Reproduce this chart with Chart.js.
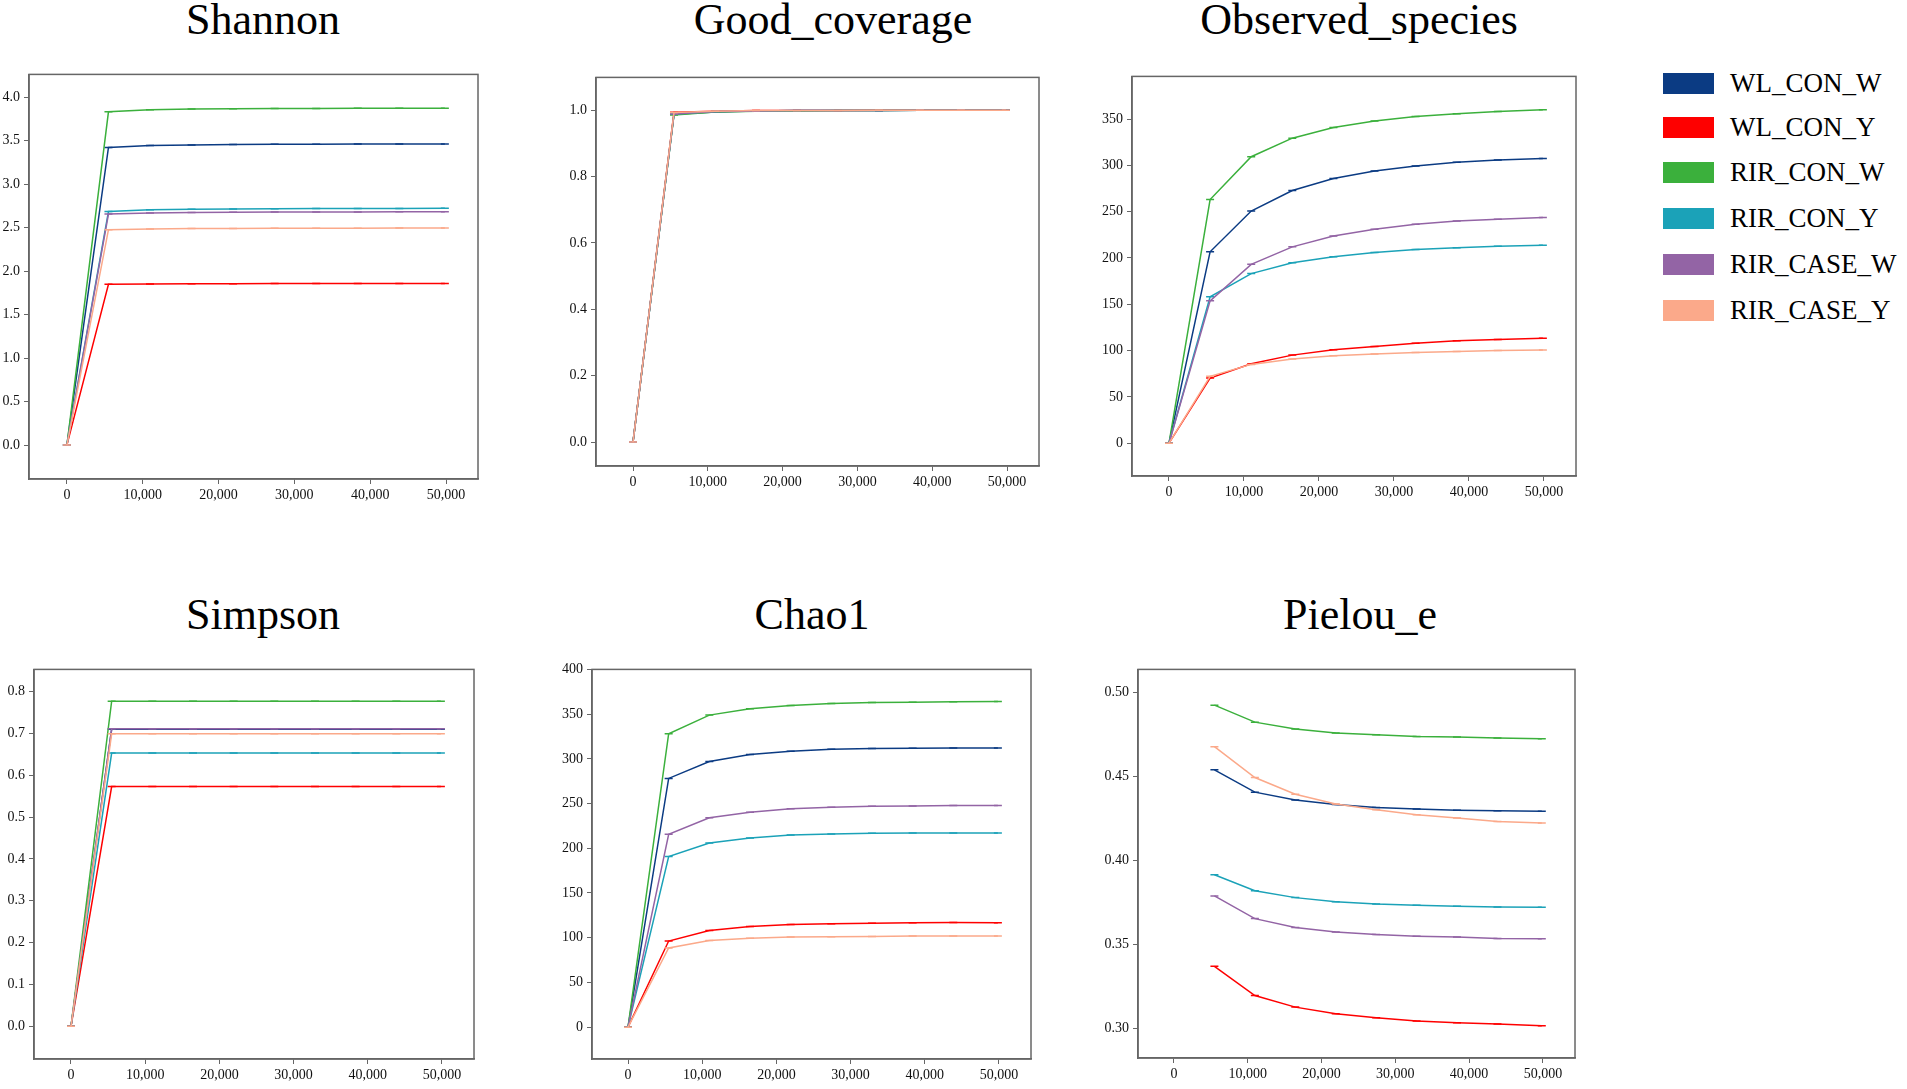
<!DOCTYPE html>
<html>
<head>
<meta charset="utf-8">
<script src="https://cdn.jsdelivr.net/npm/chart.js@4.4.1/dist/chart.umd.min.js"></script>
<style>
body{margin:0;background:#fff;width:1907px;height:1089px;position:relative;overflow:hidden;font-family:"Liberation Serif","Times New Roman",serif}
.ttl{position:absolute;width:500px;text-align:center;font-size:44px;line-height:44px;color:#000;white-space:nowrap}
.pane{position:absolute}
.key{position:absolute;width:51px;height:21px}
.lab{position:absolute;font-size:27px;line-height:27px;color:#000;white-space:nowrap}
</style>
</head>
<body>
<div id="page"></div>
<script>
// groups and colours
const groups = ['WL_CON_W', 'WL_CON_Y', 'RIR_CON_W', 'RIR_CON_Y', 'RIR_CASE_W', 'RIR_CASE_Y'];
const colors = ['#0b3b83', '#fe0000', '#3bb03c', '#1ba2b8', '#9364a5', '#fba98a'];
// sequencing depth (x) and its tick labels
const depth = [0, 5480, 10960, 16440, 21920, 27400, 32880, 38360, 43840, 49850];
const xTickValues = [0, 10000, 20000, 30000, 40000, 50000];

// Shannon
const shannon_WL_CON_W   = [0, 3.42, 3.443, 3.45, 3.454, 3.456, 3.458, 3.459, 3.46, 3.461];
const shannon_WL_CON_Y   = [0, 1.848, 1.852, 1.854, 1.855, 1.856, 1.857, 1.857, 1.858, 1.858];
const shannon_RIR_CON_W  = [0, 3.83, 3.855, 3.862, 3.865, 3.867, 3.869, 3.87, 3.871, 3.872];
const shannon_RIR_CON_Y  = [0, 2.685, 2.704, 2.71, 2.714, 2.716, 2.718, 2.719, 2.72, 2.721];
const shannon_RIR_CASE_W = [0, 2.655, 2.668, 2.673, 2.676, 2.678, 2.679, 2.68, 2.681, 2.682];
const shannon_RIR_CASE_Y = [0, 2.476, 2.484, 2.488, 2.49, 2.491, 2.492, 2.493, 2.494, 2.494];

// Good_coverage
const good_WL_CON_W   = [0, 0.988, 0.995, 0.998, 0.999, 0.999, 0.9995, 0.9997, 0.9998, 0.9999];
const good_WL_CON_Y   = [0, 0.994, 0.997, 0.999, 0.999, 0.9995, 0.9997, 0.9998, 0.9999, 0.9999];
const good_RIR_CON_W  = [0, 0.986, 0.995, 0.997, 0.998, 0.999, 0.9995, 0.9997, 0.9998, 0.9999];
const good_RIR_CON_Y  = [0, 0.989, 0.996, 0.998, 0.999, 0.999, 0.9995, 0.9997, 0.9998, 0.9999];
const good_RIR_CASE_W = [0, 0.989, 0.996, 0.998, 0.999, 0.999, 0.9995, 0.9997, 0.9998, 0.9999];
const good_RIR_CASE_Y = [0, 0.993, 0.997, 0.999, 0.999, 0.9995, 0.9997, 0.9998, 0.9999, 0.9999];

// Observed_species
const obs_WL_CON_W   = [0, 206.6, 250.6, 272.8, 285.7, 293.9, 299.2, 303.2, 305.7, 307.5];
const obs_WL_CON_Y   = [0, 70.4, 85.8, 95.1, 100.8, 104.4, 108.0, 110.5, 111.9, 113.3];
const obs_RIR_CON_W  = [0, 263.1, 309.3, 329.3, 340.8, 347.9, 352.6, 355.8, 358.2, 360.0];
const obs_RIR_CON_Y  = [0, 158.0, 183.1, 194.9, 201.3, 205.9, 209.2, 210.9, 212.7, 213.8];
const obs_RIR_CASE_W = [0, 153.7, 193.1, 212.0, 223.8, 231.0, 236.3, 239.9, 241.7, 243.8];
const obs_RIR_CASE_Y = [0, 72.2, 85.1, 90.8, 94.4, 96.2, 98.0, 99.0, 100.1, 100.5];

// Simpson
const simpson_WL_CON_W   = [0, 0.710, 0.710, 0.710, 0.710, 0.710, 0.710, 0.710, 0.710, 0.710];
const simpson_WL_CON_Y   = [0, 0.573, 0.573, 0.573, 0.573, 0.573, 0.573, 0.573, 0.573, 0.573];
const simpson_RIR_CON_W  = [0, 0.777, 0.777, 0.777, 0.777, 0.777, 0.777, 0.777, 0.777, 0.777];
const simpson_RIR_CON_Y  = [0, 0.653, 0.653, 0.653, 0.653, 0.653, 0.653, 0.653, 0.653, 0.653];
const simpson_RIR_CASE_W = [0, 0.711, 0.711, 0.711, 0.711, 0.711, 0.711, 0.711, 0.711, 0.711];
const simpson_RIR_CASE_Y = [0, 0.699, 0.699, 0.699, 0.699, 0.699, 0.699, 0.699, 0.699, 0.699];

// Chao1
const chao_WL_CON_W   = [0, 278.1, 297.0, 304.8, 308.5, 310.7, 311.5, 311.9, 312.0, 312.2];
const chao_WL_CON_Y   = [0, 96.3, 108.1, 112.6, 114.8, 115.6, 116.3, 116.7, 117.0, 116.7];
const chao_RIR_CON_W  = [0, 328.1, 348.9, 355.9, 359.6, 361.9, 363.0, 363.3, 363.7, 364.1];
const chao_RIR_CON_Y  = [0, 190.7, 205.9, 211.5, 214.8, 215.9, 216.7, 217.0, 217.0, 217.0];
const chao_RIR_CASE_W = [0, 215.6, 234.1, 240.4, 244.1, 245.9, 247.0, 247.4, 247.8, 247.8];
const chao_RIR_CASE_Y = [0, 88.5, 97.0, 99.3, 100.7, 101.1, 101.5, 101.9, 101.9, 101.9];

// Pielou_e (no value at depth 0)
const pielou_WL_CON_W   = [null, 0.4538, 0.4405, 0.4358, 0.4332, 0.4314, 0.4304, 0.4298, 0.4294, 0.4291];
const pielou_WL_CON_Y   = [null, 0.3368, 0.3194, 0.3125, 0.3085, 0.3061, 0.3043, 0.3032, 0.3024, 0.3014];
const pielou_RIR_CON_W  = [null, 0.4923, 0.4822, 0.4781, 0.4757, 0.4747, 0.4737, 0.4733, 0.4727, 0.4723];
const pielou_RIR_CON_Y  = [null, 0.3913, 0.3818, 0.3777, 0.3753, 0.3739, 0.3731, 0.3725, 0.3721, 0.3719];
const pielou_RIR_CASE_W = [null, 0.3787, 0.3652, 0.3599, 0.3573, 0.3557, 0.3547, 0.3542, 0.3534, 0.3532];
const pielou_RIR_CASE_Y = [null, 0.4676, 0.4492, 0.4393, 0.4334, 0.4300, 0.4271, 0.4251, 0.4231, 0.4221];

const page = document.getElementById('page');

// closes the frame on top and right
const frameBox = {
  id: 'frameBox',
  afterDraw(chart) {
    const a = chart.chartArea, g = chart.ctx;
    g.save();
    g.strokeStyle = '#666';
    g.lineWidth = 1.5;
    g.strokeRect(a.left, a.top, a.right - a.left, a.bottom - a.top);
    g.restore();
  }
};

function panel(title, cx, titleTop, frame, series, yMin, yMax, yStep, dec, xMin, xMax) {
  const t = document.createElement('div');
  t.className = 'ttl';
  t.style.left = (cx - 250) + 'px';
  t.style.top = titleTop + 'px';
  t.textContent = title;
  page.appendChild(t);

  // frame = [left, top, right, bottom] of the plot box
  const box = document.createElement('div');
  box.className = 'pane';
  box.style.left = (frame[0] - 50) + 'px';
  box.style.top = (frame[1] - 10) + 'px';
  box.style.width = (frame[2] - frame[0] + 60) + 'px';
  box.style.height = (frame[3] - frame[1] + 40) + 'px';
  const cv = document.createElement('canvas');
  box.appendChild(cv);
  page.appendChild(box);

  const datasets = series.map((vals, i) => ({
    label: groups[i],
    data: depth.map((x, j) => ({x: x, y: vals[j]})),
    borderColor: colors[i],
    backgroundColor: colors[i],
    borderWidth: 1.5,
    pointStyle: 'line',
    pointRadius: 4,
    pointBorderWidth: 1.5,
    order: 5 - i
  }));

  const tickFont = {family: 'Liberation Serif', size: 14};
  new Chart(cv, {
    type: 'line',
    data: {datasets: datasets},
    options: {
      responsive: true,
      maintainAspectRatio: false,
      animation: false,
      layout: {padding: {top: 10, right: 10, left: 0, bottom: 0}},
      plugins: {legend: {display: false}, tooltip: {enabled: false}},
      scales: {
        x: {
          type: 'linear',
          min: xMin, max: xMax,
          afterBuildTicks: s => { s.ticks = xTickValues.map(v => ({value: v})); },
          afterFit: s => { s.height = 30; },
          grid: {drawOnChartArea: false, tickLength: 5, color: '#666'},
          border: {color: '#666', width: 1.5},
          ticks: {font: tickFont, color: '#111', padding: 3, autoSkip: false,
                  maxRotation: 0, callback: v => v.toLocaleString('en-US')}
        },
        y: {
          min: yMin, max: yMax,
          afterFit: s => { s.width = 50; },
          grid: {drawOnChartArea: false, tickLength: 5, color: '#666'},
          border: {color: '#666', width: 1.5},
          ticks: {stepSize: yStep, includeBounds: false, font: tickFont, color: '#111', padding: 4,
                  callback: v => v.toFixed(dec)}
        }
      }
    },
    plugins: [frameBox]
  });
}

panel('Shannon', 263, -2, [29, 72, 478, 479],
  [shannon_WL_CON_W, shannon_WL_CON_Y, shannon_RIR_CON_W, shannon_RIR_CON_Y, shannon_RIR_CASE_W, shannon_RIR_CASE_Y],
  -0.39, 4.26, 0.5, 1, -5000, 54220);
panel('Good_coverage', 833, -2, [596, 75, 1039, 466],
  [good_WL_CON_W, good_WL_CON_Y, good_RIR_CON_W, good_RIR_CON_Y, good_RIR_CASE_W, good_RIR_CASE_Y],
  -0.072, 1.099, 0.2, 1, -4947, 54278);
panel('Observed_species', 1359, -2, [1132, 74, 1576, 476],
  [obs_WL_CON_W, obs_WL_CON_Y, obs_RIR_CON_W, obs_RIR_CON_Y, obs_RIR_CASE_W, obs_RIR_CASE_Y],
  -35.4, 396, 50, 0, -4933, 54267);
panel('Simpson', 263, 593, [34, 667, 474, 1059],
  [simpson_WL_CON_W, simpson_WL_CON_Y, simpson_RIR_CON_W, simpson_RIR_CON_Y, simpson_RIR_CASE_W, simpson_RIR_CASE_Y],
  -0.078, 0.853, 0.1, 1, -4986, 54313);
panel('Chao1', 812, 593, [592, 667, 1031, 1059],
  [chao_WL_CON_W, chao_WL_CON_Y, chao_RIR_CON_W, chao_RIR_CON_Y, chao_RIR_CASE_W, chao_RIR_CASE_Y],
  -35.6, 400, 50, 0, -4852, 54313);
panel('Pielou_e', 1360, 593, [1138, 667, 1575, 1058],
  [pielou_WL_CON_W, pielou_WL_CON_Y, pielou_RIR_CON_W, pielou_RIR_CON_Y, pielou_RIR_CASE_W, pielou_RIR_CASE_Y],
  0.2822, 0.5136, 0.05, 2, -4878, 54350);

// shared legend
const legendRows = [83, 127, 172, 218, 264, 310];
groups.forEach((g, i) => {
  const k = document.createElement('div');
  k.className = 'key';
  k.style.left = '1663px';
  k.style.top = (legendRows[i] - 10) + 'px';
  k.style.background = colors[i];
  page.appendChild(k);
  const l = document.createElement('div');
  l.className = 'lab';
  l.style.left = '1730px';
  l.style.top = (legendRows[i] - 13) + 'px';
  l.textContent = g;
  page.appendChild(l);
});
</script>
</body>
</html>
